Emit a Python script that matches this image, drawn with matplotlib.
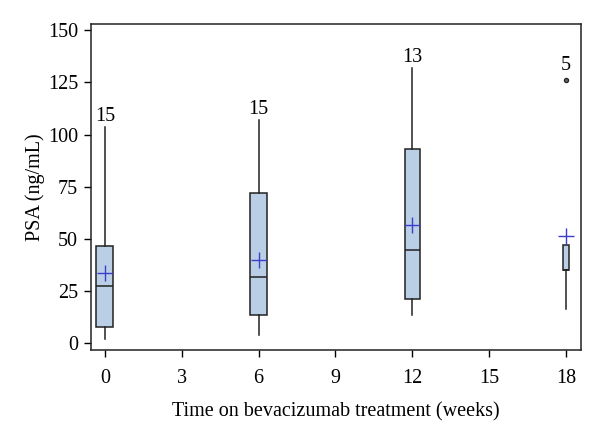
import matplotlib
matplotlib.use("Agg")
import matplotlib.pyplot as plt

# PSA values, one entry per visit
weeks = [0, 6, 12, 18]
n_patients = [15, 15, 13, 5]
q1 = [7.7, 13.4, 21.4, 34.9]
median = [27.5, 31.6, 44.6, 35.2]
q3 = [46.7, 71.8, 92.9, 47.3]
whisker_lo = [2.2, 3.8, 13.8, 16.3]
whisker_hi = [103.7, 107.0, 132.0, 47.3]
means = [33.6, 39.8, 56.9, 51.5]
outliers = [[], [], [], [126.0]]

plt.rcParams['font.family'] = ['Liberation Serif', 'DejaVu Serif']
plt.rcParams['font.size'] = 14

fig = plt.figure(figsize=(6, 4.3), dpi=100)
ax = fig.add_axes([0.151, 0.186, 0.817, 0.758])

stats = []
for i in range(len(weeks)):
    stats.append(dict(med=median[i], q1=q1[i], q3=q3[i],
                      whislo=whisker_lo[i], whishi=whisker_hi[i],
                      mean=means[i], fliers=outliers[i]))

# box width grows with the number of patients
widths = [n * 0.0444 for n in n_patients]

ax.bxp(stats, positions=weeks, widths=widths, patch_artist=True,
       showmeans=True, showcaps=False,
       boxprops=dict(facecolor='#bacfe6', edgecolor='#222222', linewidth=1.1),
       medianprops=dict(color='#222222', linewidth=1.1),
       whiskerprops=dict(color='#222222', linewidth=1.1),
       meanprops=dict(marker='+', markeredgecolor='#3d3dcc', markersize=11,
                      markeredgewidth=1.0),
       flierprops=dict(marker='o', markersize=3, markerfacecolor='#666666',
                       markeredgecolor='#222222', markeredgewidth=0.9))

# patient counts above each group
for i, w in enumerate(weeks):
    if outliers[i]:
        y = max(outliers[i]) + 5.0
    else:
        y = whisker_hi[i] + 2.6
    ax.text(w, y, str(n_patients[i]), ha='center', va='baseline', fontsize=14.5)

ax.set_xlim(-0.56, 18.58)
ax.set_ylim(-3.2, 152.9)
ax.set_xticks([0, 3, 6, 9, 12, 15, 18])
ax.set_xticklabels(['0', '3', '6', '9', '12', '15', '18'])
ax.set_yticks([0, 25, 50, 75, 100, 125, 150])
ax.tick_params(direction='out', length=5, width=1, labelsize=14.5, pad=4)
ax.tick_params(axis='x', pad=9)
for s in ax.spines.values():
    s.set_linewidth(1.1)
    s.set_color('#222222')

ax.set_xlabel('Time on bevacizumab treatment (weeks)', labelpad=10, fontsize=14.5)
ax.set_ylabel('PSA (ng/mL)', labelpad=2, fontsize=14.5)

fig.savefig('out.png', dpi=100)
